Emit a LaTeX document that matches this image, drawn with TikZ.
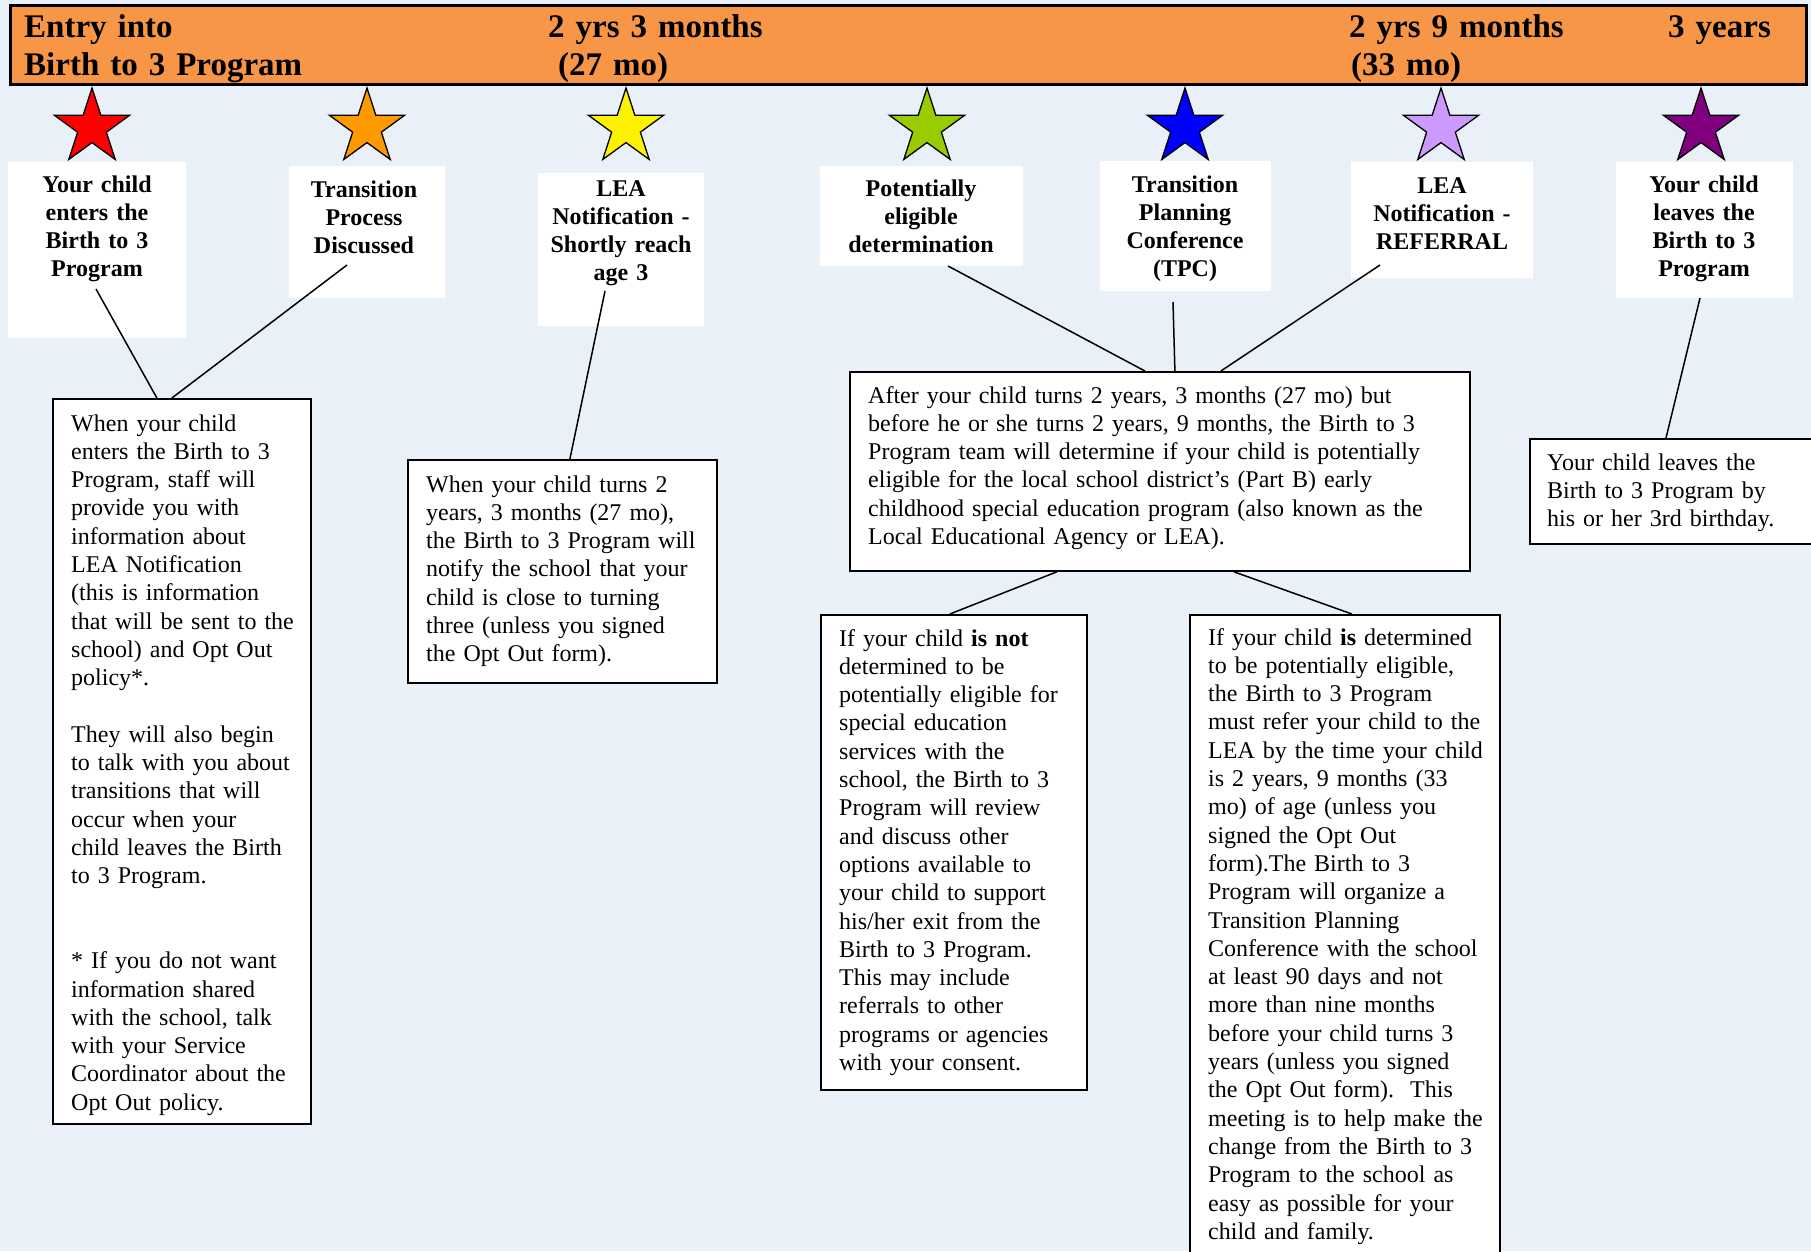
\documentclass[tikz,border=0pt]{standalone}
\usepackage{fontspec}
\setmainfont{Liberation Serif}
\usepackage{xcolor}
\usetikzlibrary{shapes.geometric}
\definecolor{bgblue}{RGB}{233,240,248}
\definecolor{barorange}{RGB}{247,150,70}
\definecolor{starorange}{RGB}{255,153,0}
\definecolor{stargreen}{RGB}{153,204,0}
\definecolor{starlilac}{RGB}{204,153,255}
\definecolor{starpurple}{RGB}{128,0,128}

\begin{document}
\begin{tikzpicture}[x=1pt, y=-1pt,
      star5/.style={star, star points=5, star point ratio=2.618, draw=black, line width=1.3pt, minimum size=79pt, inner sep=0pt},
      labbox/.style={fill=white, anchor=north west, inner sep=0pt},
      labtxt/.style={font=\bfseries\fontsize{24}{28.3}\selectfont, align=center, anchor=base, inner sep=0pt, text width=190pt},
      txtbox/.style={draw=black, fill=white, line width=1.8pt, anchor=north west, inner sep=0pt},
      bodytxt/.style={font=\fontsize{24}{28.3}\selectfont, align=left, anchor=base west, inner sep=0pt, text width=#1},
      hdr/.style={font=\bfseries\fontsize{33}{38}\selectfont, align=left, anchor=base west, inner sep=0pt, text width=400pt}]
      \clip (0,0) rectangle (1811,1251);
      \fill[bgblue] (0,0) rectangle (1811,1251);

      \node[draw=black, fill=barorange, line width=2.5pt, anchor=north west, inner sep=0pt, minimum width=1796pt, minimum height=79pt, name=bar] at (9,4) {};
      \node[hdr, name=hentry] at (24,37) {Entry into\\Birth to 3 Program};
      \node[hdr, name=h27] at (548,37) {2 yrs 3 months};
      \node[hdr, name=h27b] at (558,75) {(27 mo)};
      \node[hdr, name=h33] at (1349,37) {2 yrs 9 months};
      \node[hdr, name=h33b] at (1351,75) {(33 mo)};
      \node[hdr, name=h36] at (1668,37) {3 years};

      \node[star5, fill=red, name=st1] at (92,127.5) {};
      \node[star5, fill=starorange, name=st2] at (367,127.5) {};
      \node[star5, fill=yellow, name=st3] at (626,127.5) {};
      \node[star5, fill=stargreen, name=st4] at (927,127.5) {};
      \node[star5, fill=blue, name=st5] at (1185,127.5) {};
      \node[star5, fill=starlilac, name=st6] at (1441,127.5) {};
      \node[star5, fill=starpurple, name=st7] at (1701,127.5) {};

      \node[labbox, minimum width=178pt, minimum height=176pt, name=lb1] at (8,162) {};
      \node[labbox, minimum width=156pt, minimum height=132pt, name=lb2] at (289,166) {};
      \node[labbox, minimum width=166pt, minimum height=153pt, name=lb3] at (538,173) {};
      \node[labbox, minimum width=203pt, minimum height=100pt, name=lb4] at (820,166) {};
      \node[labbox, minimum width=171pt, minimum height=130pt, name=lb5] at (1100,161) {};
      \node[labbox, minimum width=182pt, minimum height=116pt, name=lb6] at (1351,162) {};
      \node[labbox, minimum width=177pt, minimum height=136pt, name=lb7] at (1616,162) {};

      \node[labtxt, name=enters] at (97,192) {Your child\\enters the\\Birth to 3\\Program};
      \node[labtxt, name=process] at (364,197) {Transition\\Process\\Discussed};
      \node[labtxt, name=shortly] at (621,196) {LEA\\Notification -\\Shortly reach\\age 3};
      \node[labtxt, name=potelig] at (921,196) {Potentially\\eligible\\determination};
      \node[labtxt, name=tpc] at (1185,192) {Transition\\Planning\\Conference\\(TPC)};
      \node[labtxt, name=referral] at (1442,193) {LEA\\Notification -\\REFERRAL};
      \node[labtxt, name=leaves] at (1704,192) {Your child\\leaves the\\Birth to 3\\Program};

      \node[txtbox, minimum width=258pt, minimum height=725pt, name=entrybox] at (52,398) {};
      \node[txtbox, minimum width=309pt, minimum height=223pt, name=notifybox] at (407,459) {};
      \node[txtbox, minimum width=620pt, minimum height=199pt, name=eligbox] at (849,371) {};
      \node[txtbox, minimum width=320pt, minimum height=105pt, name=leavebox] at (1529,438) {};
      \node[txtbox, minimum width=266pt, minimum height=475pt, name=notbox] at (820,614) {};
      \node[txtbox, minimum width=310pt, minimum height=700pt, name=isbox] at (1189,614) {};

      \node[bodytxt=235pt, name=entrytxt] at (71,431) {When your child\\enters the Birth to 3\\Program, staff will\\provide you with\\information about\\LEA Notification\\(this is information\\that will be sent to the\\school) and Opt Out\\policy*.\\[28.3pt]They will also begin\\to talk with you about\\transitions that will\\occur when your\\child leaves the Birth\\to 3 Program.\\[56.6pt]* If you do not want\\information shared\\with the school, talk\\with your Service\\Coordinator about the\\Opt Out policy.};
      \node[bodytxt=285pt, name=notifytxt] at (426,492) {When your child turns 2\\years, 3 months (27 mo),\\the Birth to 3 Program will\\notify the school that your\\child is close to turning\\three (unless you signed\\the Opt Out form).};
      \node[bodytxt=590pt, name=eligtxt] at (868,403) {After your child turns 2 years, 3 months (27 mo) but\\before he or she turns 2 years, 9 months, the Birth to 3\\Program team will determine if your child is potentially\\eligible for the local school district’s (Part B) early\\childhood special education program (also known as the\\Local Educational Agency or LEA).};
      \node[bodytxt=260pt, name=leavetxt] at (1547,470) {Your child leaves the\\Birth to 3 Program by\\his or her 3rd birthday.};
      \node[bodytxt=245pt, name=nottxt] at (839,646) {If your child \textbf{is not}\\determined to be\\potentially eligible for\\special education\\services with the\\school, the Birth to 3\\Program will review\\and discuss other\\options available to\\your child to support\\his/her exit from the\\Birth to 3 Program.\\This may include\\referrals to other\\programs or agencies\\with your consent.};
      \node[bodytxt=290pt, name=istxt] at (1208,645) {If your child \textbf{is} determined\\to be potentially eligible,\\the Birth to 3 Program\\must refer your child to the\\LEA by the time your child\\is 2 years, 9 months (33\\mo) of age (unless you\\signed the Opt Out\\form).The Birth to 3\\Program will organize a\\Transition Planning\\Conference with the school\\at least 90 days and not\\more than nine months\\before your child turns 3\\years (unless you signed\\the Opt Out form).\ \ This\\meeting is to help make the\\change from the Birth to 3\\Program to the school as\\easy as possible for your\\child and family.};

      \coordinate (s1) at (96,289);
      \coordinate (s2) at (347,265);
      \coordinate (s3) at (605,291);
      \coordinate (s4) at (948,266);
      \coordinate (s5) at (1173,302);
      \coordinate (s6) at (1380,265);
      \coordinate (s7) at (1700,298);

      \path[-, line width=1.5pt]
         (s1) edge ([xshift=-25pt]entrybox.north)
         (s2) edge ([xshift=-10pt]entrybox.north)
         (s3) edge ([xshift=7.5pt]notifybox.north)
         (s4) edge ([xshift=-15pt]eligbox.north)
         (s5) edge ([xshift=15pt]eligbox.north)
         (s6) edge ([xshift=61pt]eligbox.north)
         (s7) edge ([xshift=137pt]leavebox.north west)
         ([xshift=-103pt]eligbox.south) edge ([xshift=-4pt]notbox.north)
         ([xshift=74pt]eligbox.south) edge ([xshift=7pt]isbox.north);
   \end{tikzpicture}
\end{document}
